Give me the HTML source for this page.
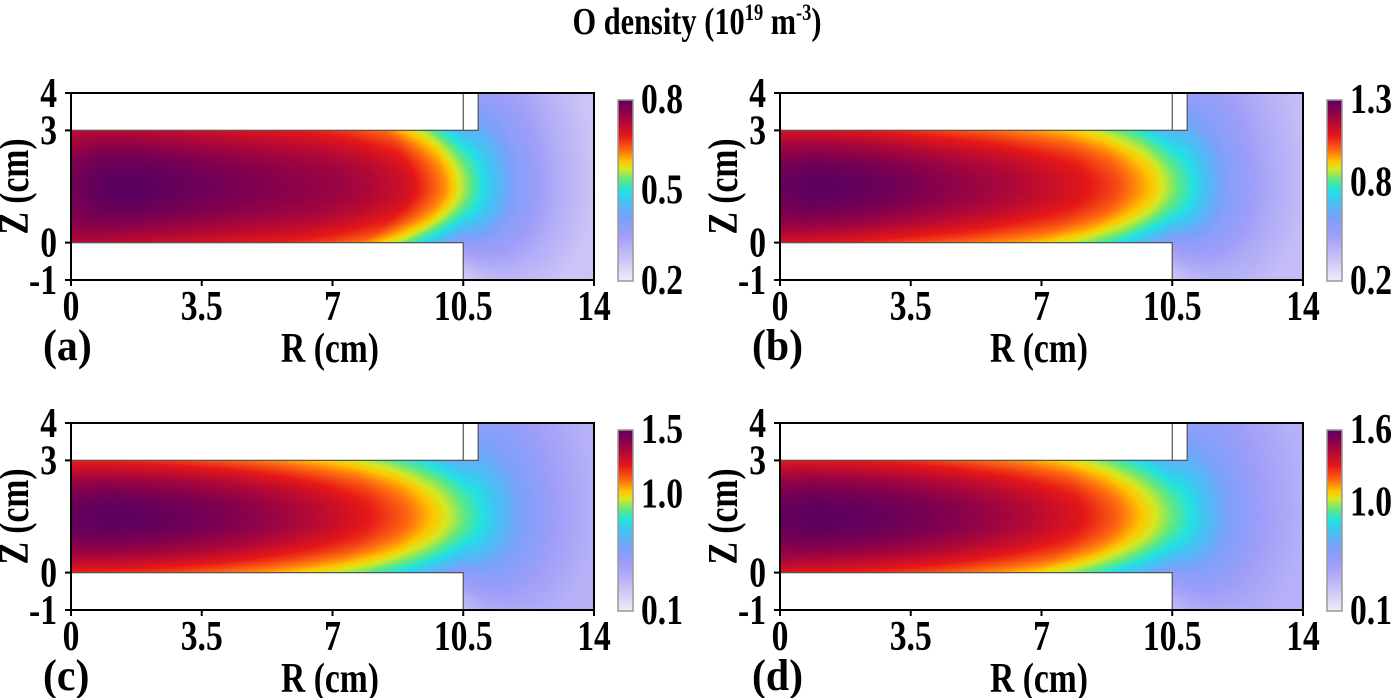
<!DOCTYPE html>
<html><head><meta charset="utf-8"><style>
html,body{margin:0;padding:0;background:#fff;}
#root{position:relative;width:1394px;height:698px;overflow:hidden;background:#fff;}
canvas{position:absolute;}
svg{position:absolute;left:0;top:0;}
text{font-family:"Liberation Serif",serif;font-weight:bold;fill:#000;}
</style></head><body>
<div id="root">
<svg id="svg" width="1394" height="698">
<g transform="translate(697,34) scale(0.8,1)">
<text x="0" y="0" text-anchor="middle" font-size="38">O density (10<tspan font-size="23" dy="-14">19</tspan><tspan dy="14"> m</tspan><tspan font-size="23" dy="-14">-3</tspan><tspan dy="14">)</tspan></text>
</g>
</svg>
</div>
<script>
// ---- data ----
const panelLabels = ['(a)','(b)','(c)','(d)'];
const xTicks = [0, 3.5, 7, 10.5, 14];
const xTickLabels = ['0','3.5','7','10.5','14'];
const yTicks = [4, 3, 0, -1];
const yTickLabels = ['4','3','0','-1'];
const cbMin = [0.2, 0.2, 0.1, 0.1];
const cbMax = [0.8, 1.3, 1.5, 1.6];
const cbTickVals = [[0.8,0.5,0.2],[1.3,0.8,0.2],[1.5,1.0,0.1],[1.6,1.0,0.1]];
const cbTickLabels = [['0.8','0.5','0.2'],['1.3','0.8','0.2'],['1.5','1.0','0.1'],['1.6','1.0','0.1']];
// centerline density vs R (cm) at R = 0,1,...,14
const profileA = [0.78,0.8,0.8,0.79,0.78,0.77,0.76,0.75,0.73,0.7,0.62,0.5,0.39,0.32,0.27];
const profileB = [1.28,1.3,1.29,1.27,1.24,1.21,1.18,1.14,1.1,1.03,0.92,0.76,0.56,0.44,0.36];
const profileC = [1.48,1.5,1.49,1.47,1.44,1.4,1.35,1.29,1.22,1.12,0.98,0.8,0.6,0.45,0.36];
const profileD = [1.58,1.6,1.59,1.57,1.54,1.5,1.45,1.39,1.32,1.2,1.04,0.85,0.62,0.47,0.38];
const profiles = [profileA, profileB, profileC, profileD];
const edgeDrop = [0.1, 0.15, 0.2, 0.18];

// ---- layout ----
const origins = [[71,93],[780,93],[71,423],[780,423]];
const PW = 523, PH = 187;
const R0=0, R1=14, Z0=-1, Z1=4;
function sx(r){return r/(R1-R0)*PW;}
function sy(z){return (Z1-z)/(Z1-Z0)*PH;}

const stops=[[0,'#efedf7'],[0.12,'#cbc3f6'],[0.25,'#a09ef8'],[0.35,'#7c9ffa'],[0.45,'#3fc6f2'],[0.5,'#22e2e2'],[0.56,'#5ee882'],[0.62,'#d6e822'],[0.66,'#ffc600'],[0.72,'#ff6e10'],[0.8,'#e61818'],[0.88,'#b00838'],[0.95,'#800050'],[1,'#5c0060']];
const stopRGB=stops.map(s=>[s[0],parseInt(s[1].substr(1,2),16),parseInt(s[1].substr(3,2),16),parseInt(s[1].substr(5,2),16)]);
function cmap(t){
  t=Math.max(0,Math.min(1,t));
  for(let i=1;i<stopRGB.length;i++){
    if(t<=stopRGB[i][0]){
      const a=stopRGB[i-1],b=stopRGB[i],f=(t-a[0])/(b[0]-a[0]);
      return [a[1]+(b[1]-a[1])*f,a[2]+(b[2]-a[2])*f,a[3]+(b[3]-a[3])*f];
    }
  }
  return stopRGB[stopRGB.length-1].slice(1);
}
function interp(p,r){
  r=Math.max(0,Math.min(p.length-1,r));
  const i=Math.min(p.length-2,Math.floor(r)),f=r-i;
  return p[i]+(p[i+1]-p[i])*f;
}
function density(k,r,z){
  const p=profiles[k];
  const dz=z-1.5;
  let c=dz<0?0.55:0.25;
  if(r>10.5) c*=Math.exp(-(r-10.5)/1.2)*0.7+0.3*Math.exp(-(r-10.5)/6);
  const rho=r+c*dz*dz;
  const dzc=Math.max(-1.5,Math.min(1.5,dz));
  let e=edgeDrop[k]*(dzc/1.5)*(dzc/1.5);
  if(r>10.5) e*=Math.exp(-(r-10.5)/0.8);
  return interp(p,rho)*(1-e);
}
function inside(r,z){
  if(r<10.5) return z>=0 && z<=3;
  if(r<10.9 && z>3) return false;
  return true;
}

const root=document.getElementById('root');
const svg=document.getElementById('svg');
const NS='http://www.w3.org/2000/svg';
function mk(tag,attrs,parent){const e=document.createElementNS(NS,tag);for(const k in attrs)e.setAttribute(k,attrs[k]);(parent||svg).appendChild(e);return e;}
function txt(parent,x,y,size,anchor,str,rot,scx){
  const g=mk('g',{transform:'translate('+x+','+y+')'+(rot?' rotate(-90)':'')+' scale('+(scx||0.8)+',1)'},parent);
  const t=mk('text',{x:0,y:0,'text-anchor':anchor,'font-size':size},g);
  t.textContent=str;
  return t;
}

for(let k=0;k<4;k++){
  const [ox,oy]=origins[k];
  const g=mk('g',{transform:'translate('+ox+','+oy+')'});
  
  
  const cv=document.createElement('canvas');
  cv.width=PW;cv.height=PH;
  cv.style.left=ox+'px';cv.style.top=oy+'px';
  
  
  root.insertBefore(cv,svg);
  const ctx=cv.getContext('2d');
  const img=ctx.createImageData(PW,PH);
  const lo=cbMin[k],hi=cbMax[k];
  for(let py=0;py<PH;py++){
    const z=Z1-(py+0.5)/PH*(Z1-Z0);
    for(let px=0;px<PW;px++){
      const r=(px+0.5)/PW*(R1-R0);
      const idx=(py*PW+px)*4;
      if(!inside(r,z)){img.data[idx]=255;img.data[idx+1]=255;img.data[idx+2]=255;img.data[idx+3]=255;continue;}
      const c=cmap((density(k,r,z)-lo)/(hi-lo));
      img.data[idx]=c[0];img.data[idx+1]=c[1];img.data[idx+2]=c[2];img.data[idx+3]=255;
    }
  }
  ctx.putImageData(img,0,0);
  const w1=mk('path',{d:'M0,'+sy(3)+' H'+sx(10.9)+' V'+sy(4)+' M'+sx(10.5)+','+sy(3)+' V'+sy(4),fill:'none',stroke:'#555','stroke-width':1.2},g);
  
  
  const w2=mk('path',{d:'M0,'+sy(0)+' H'+sx(10.5)+' V'+sy(-1),fill:'none',stroke:'#555','stroke-width':1.2},g);
  
  
  const fr=mk('rect',{x:0,y:0,width:PW,height:PH,fill:'none',stroke:'#000','stroke-width':2},g);
  
  
  xTicks.forEach((v,i)=>{
    const t=mk('line',{x1:sx(v),x2:sx(v),y1:PH,y2:PH+6,stroke:'#000','stroke-width':2},g);
    
    
    const l=txt(g,sx(v),PH+40,42,'middle',xTickLabels[i]);
    
    
  });
  yTicks.forEach((v,i)=>{
    const t=mk('line',{x1:-6,x2:0,y1:sy(v),y2:sy(v),stroke:'#000','stroke-width':2},g);
    
    
    const l=txt(g,-14,sy(v)+14,42,'end',yTickLabels[i]);
    
    
  });
  const xt=txt(g,259,PH+82,42,'middle','R (cm)');
  
  
  const yt=txt(g,-43,PH/2,42,'middle','Z (cm)',true);
  
  
  const pl=txt(g,-28,PH+80,44,'start',panelLabels[k],false,0.95);
  
  
  const cbx=547,cby=7,cbw=15,cbh=PH-6;
  const defs=mk('defs',{},g);
  const gr=mk('linearGradient',{id:'cbg'+k,x1:0,y1:1,x2:0,y2:0},defs);
  stops.forEach(s=>mk('stop',{offset:s[0],'stop-color':s[1]},gr));
  const cb=mk('rect',{x:cbx,y:cby,width:cbw,height:cbh,fill:'url(#cbg'+k+')',stroke:'#999','stroke-width':1.5},g);
  
  
  cbTickVals[k].forEach((v,i)=>{
    const yy=cby+cbh*(1-(v-lo)/(hi-lo));
    const l=txt(g,cbx+23,yy+13,42,'start',cbTickLabels[k][i]);
    
    
  });
}
</script>
</body></html>
